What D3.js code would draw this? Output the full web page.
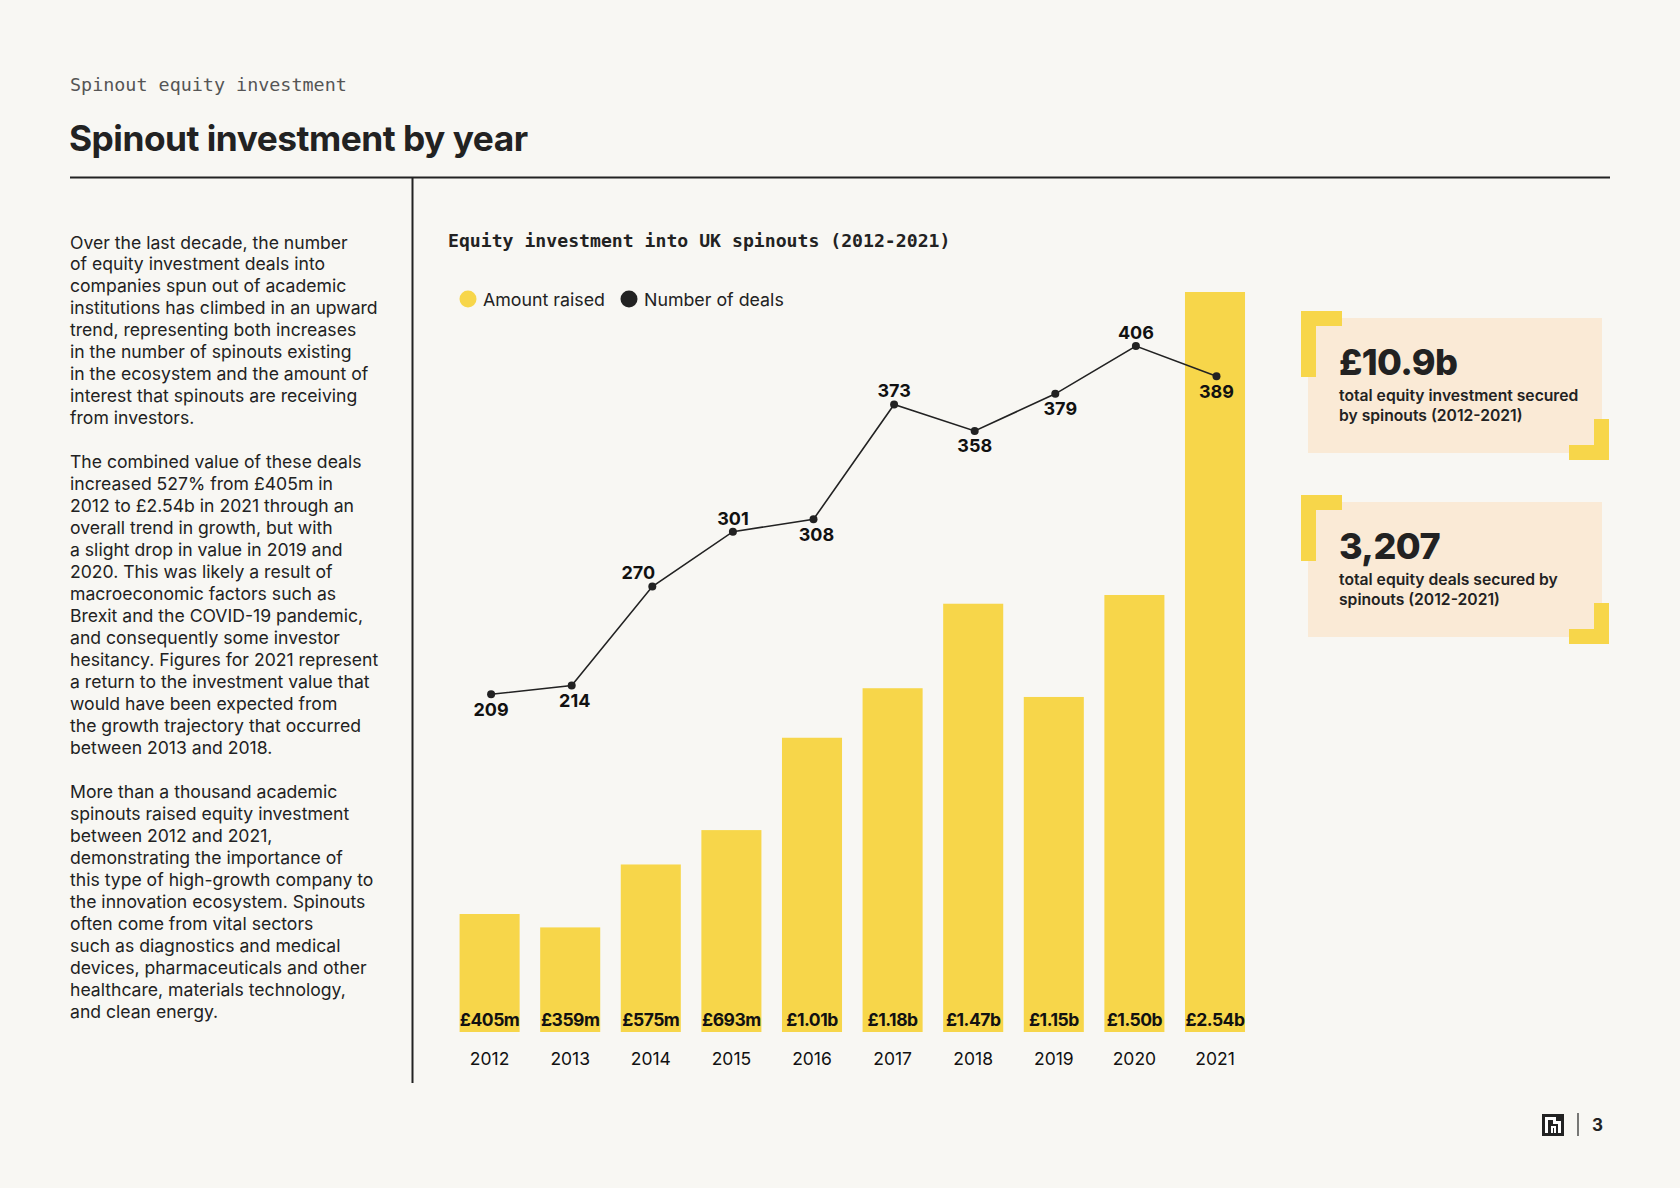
<!DOCTYPE html>
<html>
<head>
<meta charset="utf-8">
<script src="https://cdn.jsdelivr.net/npm/d3@7"></script>
<style>
  html, body { margin: 0; padding: 0; background: #f8f7f3; }
  svg { display: block; }
  .sans { font-family: Inter, "Noto Sans", sans-serif; }
  .mono { font-family: "DejaVu Sans Mono", monospace; }
</style>
</head>
<body>
<svg width="1680" height="1188"></svg>
<script>
"use strict";

// ---- data ----
var years = ["2012", "2013", "2014", "2015", "2016", "2017", "2018", "2019", "2020", "2021"];
var amounts = [405, 359, 575, 693, 1010, 1180, 1470, 1150, 1500, 2540]; // £m
var amountLabels = ["£405m", "£359m", "£575m", "£693m", "£1.01b", "£1.18b", "£1.47b", "£1.15b", "£1.50b", "£2.54b"];
var deals = [209, 214, 270, 301, 308, 373, 358, 379, 406, 389];

var legendItems = ["Amount raised", "Number of deals"];

var stats = [
    { big: "£10.9b", lines: ["total equity investment secured", "by spinouts (2012-2021)"] },
    { big: "3,207", lines: ["total equity deals secured by", "spinouts (2012-2021)"] }
];

var paragraphs = [
    ["Over the last decade, the number",
     "of equity investment deals into",
     "companies spun out of academic",
     "institutions has climbed in an upward",
     "trend, representing both increases",
     "in the number of spinouts existing",
     "in the ecosystem and the amount of",
     "interest that spinouts are receiving",
     "from investors."],
    ["The combined value of these deals",
     "increased 527% from £405m in",
     "2012 to £2.54b in 2021 through an",
     "overall trend in growth, but with",
     "a slight drop in value in 2019 and",
     "2020. This was likely a result of",
     "macroeconomic factors such as",
     "Brexit and the COVID-19 pandemic,",
     "and consequently some investor",
     "hesitancy. Figures for 2021 represent",
     "a return to the investment value that",
     "would have been expected from",
     "the growth trajectory that occurred",
     "between 2013 and 2018."],
    ["More than a thousand academic",
     "spinouts raised equity investment",
     "between 2012 and 2021,",
     "demonstrating the importance of",
     "this type of high-growth company to",
     "the innovation ecosystem. Spinouts",
     "often come from vital sectors",
     "such as diagnostics and medical",
     "devices, pharmaceuticals and other",
     "healthcare, materials technology,",
     "and clean energy."]
];

// ---- styling ----
var yellow = "#f7d64a",
    ink = "#222222",
    peach = "#faead6",
    bg = "#f8f7f3";

var svg = d3.select("svg");
svg.append("rect").attr("width", 1680).attr("height", 1188).attr("fill", bg);

// header
svg.append("text").attr("class", "mono")
    .attr("x", 70).attr("y", 91)
    .attr("font-size", 18.4).attr("fill", "#555")
    .text("Spinout equity investment");

svg.append("text").attr("class", "sans")
    .attr("x", 69).attr("y", 151)
    .attr("font-size", 35.3).attr("font-weight", 700).attr("fill", ink)
    .attr("letter-spacing", -0.5)
    .text("Spinout investment by year");

svg.append("line")
    .attr("x1", 70).attr("x2", 1610).attr("y1", 177.5).attr("y2", 177.5)
    .attr("stroke", ink).attr("stroke-width", 2);

svg.append("line")
    .attr("x1", 412.5).attr("x2", 412.5).attr("y1", 178).attr("y2", 1083)
    .attr("stroke", ink).attr("stroke-width", 2);

// left column text
var lineH = 21.98, lineIdx = 0;
var body = svg.append("text").attr("class", "sans")
    .attr("font-size", 17.6).attr("fill", ink);
paragraphs.forEach(function(p, pi) {
    if (pi > 0) lineIdx++;
    p.forEach(function(l) {
        body.append("tspan")
            .attr("x", 70)
            .attr("y", 248.5 + lineIdx * lineH)
            .text(l);
        lineIdx++;
    });
});

// chart title + legend
svg.append("text").attr("class", "mono")
    .attr("x", 448).attr("y", 247)
    .attr("font-size", 18.15).attr("font-weight", 700).attr("fill", ink)
    .text("Equity investment into UK spinouts (2012-2021)");

var legend = svg.append("g").attr("class", "sans").attr("font-size", 17.8).attr("fill", ink);
var legendX = [468, 629], legendColor = [yellow, ink];
legendItems.forEach(function(t, i) {
    legend.append("circle").attr("cx", legendX[i]).attr("cy", 299).attr("r", 8.5).attr("fill", legendColor[i]);
    legend.append("text").attr("x", legendX[i] + 15).attr("y", 305.5).text(t);
});

// scales
var x = d3.scaleBand()
    .domain(years)
    .range([449.3, 1255.3])
    .paddingInner(0.255)
    .paddingOuter(0.1275);

var y = d3.scaleLinear().domain([0, 2540]).range([1032, 292]);
var y2 = d3.scaleLinear().domain([209, 406]).range([694.3, 346.1]);

// bars
svg.append("g").selectAll("rect")
    .data(amounts)
    .enter().append("rect")
    .attr("x", function(d, i) { return x(years[i]); })
    .attr("width", x.bandwidth())
    .attr("y", function(d) { return y(d); })
    .attr("height", function(d) { return y(0) - y(d); })
    .attr("fill", yellow);

svg.append("g").attr("class", "sans")
    .attr("font-size", 17.5).attr("font-weight", 700).attr("fill", "#111")
    .attr("text-anchor", "middle").attr("letter-spacing", -0.5)
    .selectAll("text")
    .data(amountLabels)
    .enter().append("text")
    .attr("x", function(d, i) { return x(years[i]) + x.bandwidth() / 2; })
    .attr("y", y(0) - 6)
    .text(function(d) { return d; });

// x axis (labels only)
var xAxis = svg.append("g")
    .attr("transform", "translate(0," + (y(0) + 14.5) + ")")
    .call(d3.axisBottom(x).tickSize(0).tickPadding(0));
xAxis.select(".domain").remove();
xAxis.selectAll("text")
    .attr("class", "sans")
    .attr("font-size", 17.5).attr("fill", "#111")
    .attr("dy", "1.05em")
    .style("font-family", "Inter, 'Noto Sans', sans-serif");

// deals line
var cx = function(d, i) { return x(years[i]) + x.bandwidth() / 2 + 1.5; };
var line = d3.line().x(cx).y(function(d) { return y2(d); });

svg.append("path")
    .datum(deals)
    .attr("d", line)
    .attr("fill", "none").attr("stroke", ink).attr("stroke-width", 1.6);

svg.append("g").selectAll("circle")
    .data(deals)
    .enter().append("circle")
    .attr("cx", cx)
    .attr("cy", function(d) { return y2(d); })
    .attr("r", 4).attr("fill", ink);

// which side of the point each number sits on, and small sideways nudges
var labelAbove = [false, false, true, true, false, true, false, false, true, false];
var labelNudge = [0, 3, -14, 0, 3, 0, 0, 5, 0, 0];
svg.append("g").attr("class", "sans")
    .attr("font-size", 18).attr("font-weight", 700).attr("fill", "#111")
    .attr("text-anchor", "middle")
    .selectAll("text")
    .data(deals)
    .enter().append("text")
    .attr("x", function(d, i) { return cx(d, i) + labelNudge[i]; })
    .attr("y", function(d, i) { return y2(d) + (labelAbove[i] ? -7 : 21.5); })
    .text(function(d) { return d; });

// stat boxes
var boxTops = [318, 502];
stats.forEach(function(s, i) {
    var g = svg.append("g").attr("transform", "translate(1308," + boxTops[i] + ")");
    g.append("rect").attr("width", 294).attr("height", 135).attr("fill", peach);
    // corner brackets
    g.append("path")
        .attr("d", "M-7,-7H34V8H8V59H-7Z")
        .attr("fill", yellow);
    g.append("path")
        .attr("d", "M301,142H261V127H286V101H301Z")
        .attr("fill", yellow);
    g.append("text").attr("class", "sans")
        .attr("x", 31).attr("y", 57)
        .attr("font-size", 36).attr("font-weight", 800).attr("fill", ink)
        .attr("letter-spacing", -0.6)
        .text(s.big);
    var t = g.append("text").attr("class", "sans")
        .attr("font-size", 15.7).attr("font-weight", 600).attr("fill", ink);
    s.lines.forEach(function(l, j) {
        t.append("tspan").attr("x", 31).attr("y", 83 + j * 19.5).text(l);
    });
});

// footer
var foot = svg.append("g");
foot.append("rect").attr("x", 1542).attr("y", 1114).attr("width", 22).attr("height", 22).attr("fill", ink);
foot.append("path")
    .attr("d", "M1545,1133V1117H1556V1121H1561V1133H1558V1124H1553V1120H1548V1133Z")
    .attr("fill", "#fff");
foot.append("path")
    .attr("d", "M1551,1133V1126H1556V1133H1554V1128H1553V1133Z")
    .attr("fill", "#fff");
foot.append("line").attr("x1", 1578).attr("x2", 1578).attr("y1", 1113).attr("y2", 1136)
    .attr("stroke", ink).attr("stroke-width", 1.2);
foot.append("text").attr("class", "sans")
    .attr("x", 1592).attr("y", 1131)
    .attr("font-size", 17).attr("font-weight", 700).attr("fill", ink)
    .text("3");
</script>
</body>
</html>
